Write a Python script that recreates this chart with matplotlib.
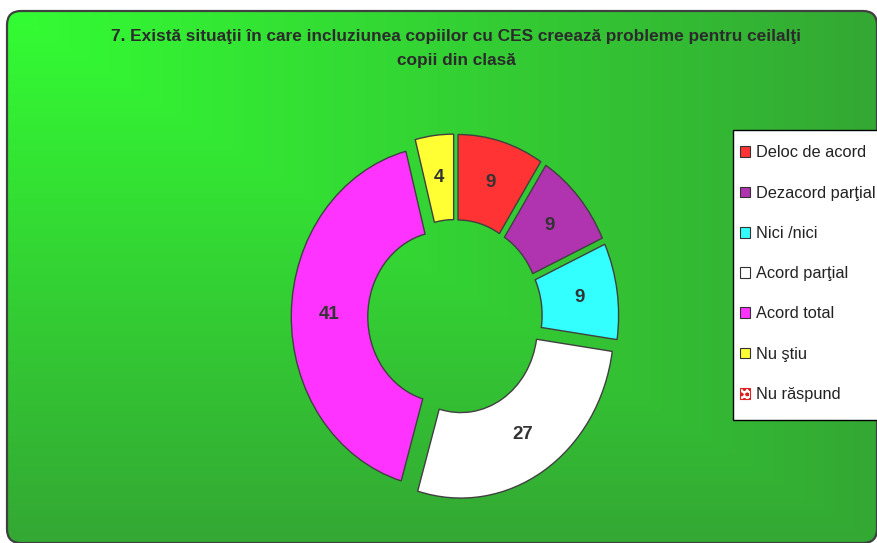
import matplotlib
matplotlib.use("Agg")
import matplotlib.pyplot as plt
from matplotlib.patches import FancyBboxPatch, Patch, Rectangle
import numpy as np

plt.rcParams['font.family'] = ['Liberation Sans', 'DejaVu Sans']

# data
title = ("7. Există situaţii în care incluziunea copiilor cu CES creează probleme pentru ceilalţi\n"
         "copii din clasă")
categories = ["Deloc de acord", "Dezacord parţial", "Nici /nici", "Acord parţial",
              "Acord total", "Nu ştiu", "Nu răspund"]
values = [9, 9, 9, 27, 41, 4, 0]
colors = ["#ff3333", "#b033b0", "#33ffff", "#ffffff", "#ff33ff", "#ffff33", "#ffffff"]

W, H = 878, 543
fig = plt.figure(figsize=(W / 100, H / 100), dpi=100)
fig.patch.set_facecolor("white")

# background panel with corner gradient
bg = fig.add_axes([0, 0, 1, 1])
bg.set_xlim(0, W)
bg.set_ylim(H, 0)
bg.axis("off")
x0, y0, x1, y1 = 7, 11, 877, 543
xx, yy = np.meshgrid(np.linspace(0, 1, 400), np.linspace(0, 1, 300))
t = np.maximum(xx, yy)
top = np.array([51, 253, 51]) / 255
bot = np.array([52, 168, 52]) / 255
grad = top[None, None, :] * (1 - t[..., None]) + bot[None, None, :] * t[..., None]
panel = FancyBboxPatch((x0, y0), x1 - x0, y1 - y0,
                       boxstyle="round,pad=0,rounding_size=14",
                       facecolor="none", edgecolor="#404040", linewidth=1.6, zorder=3)
bg.add_patch(panel)
im = bg.imshow(grad, extent=(x0, x1, y1, y0), aspect="auto", zorder=1)
im.set_clip_path(panel)

line1, line2 = title.split("\n")
bg.text(456, 37, line1, ha="center", va="center",
        fontsize=12.4, fontweight="bold", color="#2b2b2b")
bg.text(456, 60, line2, ha="center", va="center",
        fontsize=12.4, fontweight="bold", color="#2b2b2b")

# donut (slightly taller than wide, like the original)
cx, cy, rx, ry, L = 455, 317, 153, 171, 1.2
aw, ah = 2 * L * rx, 2 * L * ry
ax = fig.add_axes([(cx - aw / 2) / W, (H - cy - ah / 2) / H, aw / W, ah / H])

vals = [v for v in values if v > 0]
cols = [c for v, c in zip(values, colors) if v > 0]
total = sum(vals)
wedges, texts, autotexts = ax.pie(
    vals, colors=cols, startangle=90, counterclock=False,
    explode=[0.07] * len(vals), radius=1.0,
    wedgeprops=dict(width=0.5, edgecolor="#404040", linewidth=1.0),
    autopct=lambda p: "%d" % round(p * total / 100), pctdistance=0.75,
    textprops=dict(fontsize=13.5, fontweight="bold", color="#333333"))
ax.set_aspect("auto")
ax.set_xlim(-L, L)
ax.set_ylim(-L, L)
ax.axis("off")

# legend: white box drawn on the panel, entries by fig.legend
bg.add_patch(Rectangle((733, 130), 160, 290, facecolor="white",
                       edgecolor="black", linewidth=1.0, zorder=4))
handles = []
for lab, c in zip(categories, colors):
    if lab == "Nu răspund":
        handles.append(Patch(facecolor="white", edgecolor="#dd2222", hatch="ooo", linewidth=0.8))
    else:
        handles.append(Patch(facecolor=c, edgecolor="#333333", linewidth=0.8))
leg = fig.legend(handles, categories, loc="upper left",
                 bbox_to_anchor=(740 / W, 1 - 145.5 / H), borderaxespad=0,
                 fontsize=11.8, frameon=False, borderpad=0, labelspacing=1.54,
                 handlelength=0.63, handleheight=0.63, handletextpad=0.34)
for txt in leg.get_texts():
    txt.set_color("#222222")

fig.savefig("out.png", dpi=100)
